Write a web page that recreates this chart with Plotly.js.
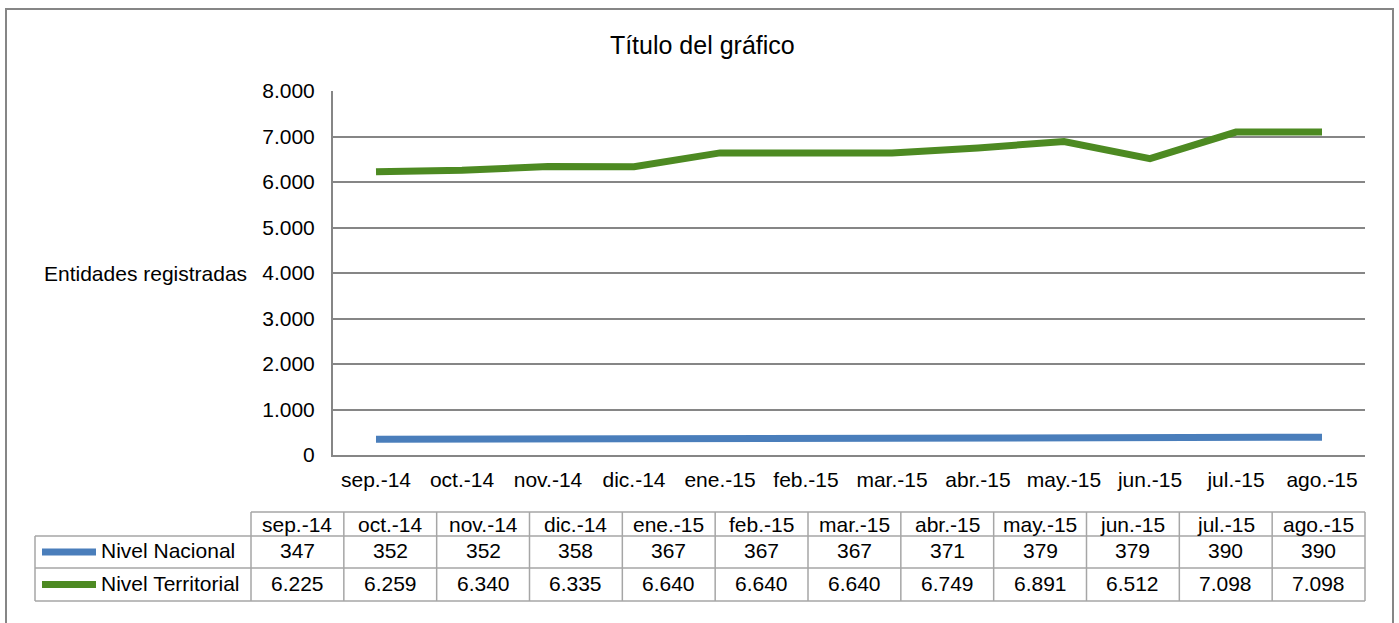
<!DOCTYPE html>
<html>
<head>
<meta charset="utf-8">
<script src="https://cdn.plot.ly/plotly-3.0.1.min.js"></script>
<style>
  html, body { margin: 0; padding: 0; background: #ffffff; }
  #chart { width: 1399px; height: 623px; }
</style>
</head>
<body>
<div id="chart"></div>
<script>
// ---- data ----
const categories = ['sep.-14','oct.-14','nov.-14','dic.-14','ene.-15','feb.-15','mar.-15','abr.-15','may.-15','jun.-15','jul.-15','ago.-15'];
const seriesNames = ['Nivel Nacional', 'Nivel Territorial'];
const nacional = [347, 352, 352, 358, 367, 367, 367, 371, 379, 379, 390, 390];
const territorial = [6225, 6259, 6340, 6335, 6640, 6640, 6640, 6749, 6891, 6512, 7098, 7098];
const yTickValues = [0, 1000, 2000, 3000, 4000, 5000, 6000, 7000, 8000];

// ---- geometry ----
const W = 1399, H = 623;
const M = { l: 30, r: 34, t: 91, b: 10 };
const PW = W - M.l - M.r, PH = H - M.t - M.b;
const px = x => (x - M.l) / PW;
const py = y => (H - M.b - y) / PH;

const blue = '#4a7ebb';
const green = '#4d8a22';
const gridGray = '#868686';
const tableGray = '#a6a6a6';
const FONT = 'Liberation Sans, Arial, sans-serif';

const fmt = n => String(n).replace(/\B(?=(\d{3})+(?!\d))/g, '.');

const traces = [
  { x: categories, y: nacional, name: seriesNames[0], type: 'scatter', mode: 'lines',
    line: { color: blue, width: 7 }, hoverinfo: 'skip' },
  { x: categories, y: territorial, name: seriesNames[1], type: 'scatter', mode: 'lines',
    line: { color: green, width: 7 }, hoverinfo: 'skip' }
];

// ---- table geometry ----
const tblLeft = 35, tblColStart = 251, tblRight = 1365;
const rowY = [512, 536, 568, 601];
const cw = (tblRight - tblColStart) / categories.length;

const shapes = [];
const annotations = [];

// outer border
shapes.push({ type: 'rect', xref: 'paper', yref: 'paper',
  x0: px(6), x1: px(1393), y0: py(640), y1: py(9),
  line: { color: gridGray, width: 2 }, fillcolor: 'rgba(0,0,0,0)', layer: 'below' });

const tl = (x0, y0, x1, y1) => shapes.push({ type: 'line', xref: 'paper', yref: 'paper',
  x0: px(x0), x1: px(x1), y0: py(y0), y1: py(y1), line: { color: tableGray, width: 1.5 } });

// horizontal table lines
tl(tblColStart, rowY[0], tblRight, rowY[0]);
tl(tblLeft, rowY[1], tblRight, rowY[1]);
tl(tblLeft, rowY[2], tblRight, rowY[2]);
tl(tblLeft, rowY[3], tblRight, rowY[3]);
// vertical lines
tl(tblLeft, rowY[1], tblLeft, rowY[3]);
for (let i = 0; i <= categories.length; i++) {
  const x = tblColStart + i * cw;
  tl(x, rowY[0], x, rowY[3]);
}

const rowsData = [nacional, territorial];
const rowColors = [blue, green];
const cellFont = { family: FONT, size: 21, color: '#000000' };

categories.forEach((c, i) => {
  const cx = px(tblColStart + (i + 0.5) * cw);
  annotations.push({ xref: 'paper', yref: 'paper', x: cx, y: py((rowY[0] + rowY[1]) / 2),
    text: c, showarrow: false, xanchor: 'center', yanchor: 'middle', font: cellFont });
  rowsData.forEach((arr, r) => {
    annotations.push({ xref: 'paper', yref: 'paper', x: cx, y: py((rowY[r + 1] + rowY[r + 2]) / 2 - 1.5),
      text: fmt(arr[i]), showarrow: false, xanchor: 'center', yanchor: 'middle', font: cellFont });
  });
});

seriesNames.forEach((n, r) => {
  const yc = (rowY[r + 1] + rowY[r + 2]) / 2;
  shapes.push({ type: 'path', xref: 'paper', yref: 'paper',
    path: 'M ' + px(42) + ' ' + py(yc) + ' L ' + px(96) + ' ' + py(yc),
    line: { color: rowColors[r], width: 7 } });
  annotations.push({ xref: 'paper', yref: 'paper', x: px(99), y: py(yc - 1.5), text: n,
    showarrow: false, xanchor: 'left', yanchor: 'middle', font: cellFont });
});

// y axis title (horizontal)
annotations.push({ xref: 'paper', yref: 'paper', x: px(249), y: py(273),
  text: 'Entidades registradas', showarrow: false, xanchor: 'right', yanchor: 'middle', font: cellFont });

const layout = {
  width: W, height: H,
  margin: M,
  paper_bgcolor: '#ffffff', plot_bgcolor: '#ffffff',
  separators: ',.',
  showlegend: false,
  font: { family: FONT, size: 21, color: '#000000' },
  title: { text: 'Título del gráfico', font: { family: FONT, size: 25, color: '#000000' },
    xref: 'container', x: 0.502, xanchor: 'center', yref: 'container', y: 1 - 45 / H, yanchor: 'middle' },
  xaxis: {
    domain: [px(333), px(1365)], type: 'category', categoryorder: 'array', categoryarray: categories,
    range: [-0.5, categories.length - 0.5],
    showgrid: false, zeroline: false, showline: true, linecolor: gridGray, linewidth: 2,
    ticks: 'outside', ticklen: 5, tickcolor: 'rgba(0,0,0,0)',
    tickfont: { family: FONT, size: 21, color: '#000000' }, fixedrange: true
  },
  yaxis: {
    domain: [py(455), py(91)], range: [0, 8000], tickvals: yTickValues, tickformat: ',',
    showgrid: true, gridcolor: gridGray, gridwidth: 2, zeroline: false,
    showline: true, linecolor: gridGray, linewidth: 2,
    ticks: 'outside', ticklen: 12, tickcolor: 'rgba(0,0,0,0)',
    tickfont: { family: FONT, size: 21, color: '#000000' }, fixedrange: true
  },
  shapes: shapes,
  annotations: annotations
};

Plotly.newPlot('chart', traces, layout, { displayModeBar: false, staticPlot: true });
</script>
</body>
</html>
